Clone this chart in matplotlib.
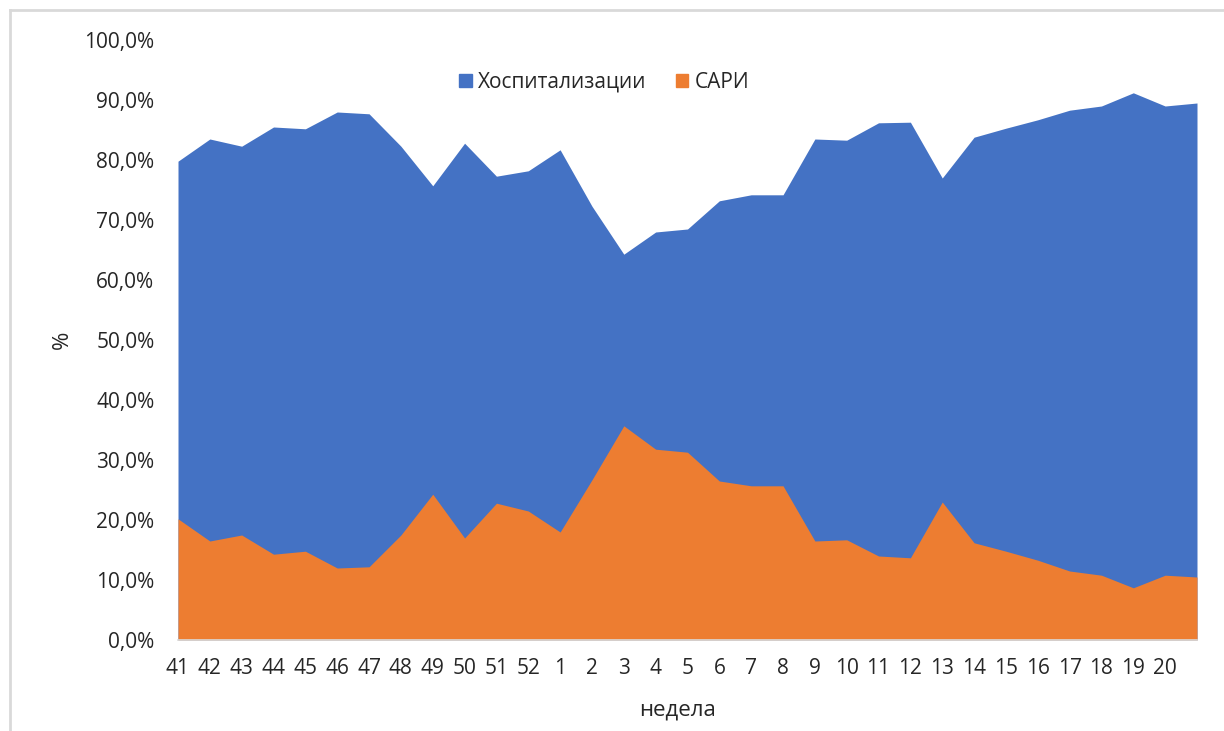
import matplotlib.pyplot as plt
from matplotlib.patches import Patch
from matplotlib.lines import Line2D
from matplotlib.ticker import FuncFormatter

plt.rcParams['font.family'] = ['Open Sans', 'DejaVu Sans']

# weeks 41..52, 1..20 plus one unlabelled last point
weeks = [str(w) for w in range(41, 53)] + [str(w) for w in range(1, 21)] + ['']

hosp = [79.8, 83.5, 82.3, 85.5, 85.2, 88.0, 87.7, 82.3, 75.7, 82.8, 77.3, 78.2,
        81.7, 72.3, 64.3, 68.0, 68.5, 73.2, 74.2, 74.2, 83.5, 83.3, 86.2, 86.3,
        77.0, 83.8, 85.3, 86.7, 88.3, 89.0, 91.2, 89.0, 89.5]
sari = [20.2, 16.5, 17.5, 14.3, 14.8, 12.0, 12.2, 17.5, 24.3, 17.0, 22.8, 21.5,
        18.0, 26.7, 35.7, 31.8, 31.3, 26.5, 25.7, 25.7, 16.5, 16.7, 14.0, 13.7,
        23.0, 16.2, 14.8, 13.3, 11.5, 10.8, 8.7, 10.8, 10.5]

blue = '#4472c4'
orange = '#ed7d31'
txt = '#262626'

fig = plt.figure(figsize=(12.24, 7.31), dpi=100)
ax = fig.add_axes([178/1224, 1-640/731, (1197-178)/1224, 600/731])

x = list(range(len(weeks)))
ax.fill_between(x, 0, hosp, color=blue, lw=0)
ax.fill_between(x, 0, sari, color=orange, lw=0)

ax.set_xlim(0, len(weeks) - 1)
ax.set_ylim(0, 100)
ax.set_xticks(x)
ax.set_xticklabels(weeks)
ax.set_yticks(range(0, 101, 10))
ax.yaxis.set_major_formatter(FuncFormatter(lambda v, p: f'{v:.1f}%'.replace('.', ',')))
ax.tick_params(length=0, labelsize=15, colors=txt)
ax.tick_params(axis='x', pad=13)
ax.tick_params(axis='y', pad=17)
for s in ['top', 'right', 'left']:
    ax.spines[s].set_visible(False)
ax.spines['bottom'].set_color('#d9d9d9')
ax.spines['bottom'].set_linewidth(1.2)

fig.text(62/1224, 1-340/731, '%', rotation=90, ha='center', va='center', fontsize=16, color=txt)
fig.text(678/1224, 1-710/731, 'недела', ha='center', va='center', fontsize=16, color=txt)

handles = [Patch(color=blue, label='Хоспитализации'), Patch(color=orange, label='САРИ')]
fig.legend(handles=handles, loc='center', bbox_to_anchor=(604/1224, 1-82/731), ncol=2,
           frameon=False, fontsize=15, handlelength=0.6, handleheight=0.6,
           handletextpad=0.3, columnspacing=1.4, labelcolor=txt)

# chart frame (top and left edges visible)
fig.add_artist(Line2D([10/1224, 1], [1-10/731, 1-10/731], color='#d9d9d9', lw=2))
fig.add_artist(Line2D([10/1224, 10/1224], [0, 1-10/731], color='#d9d9d9', lw=2))

fig.savefig('out.png', dpi=100)
